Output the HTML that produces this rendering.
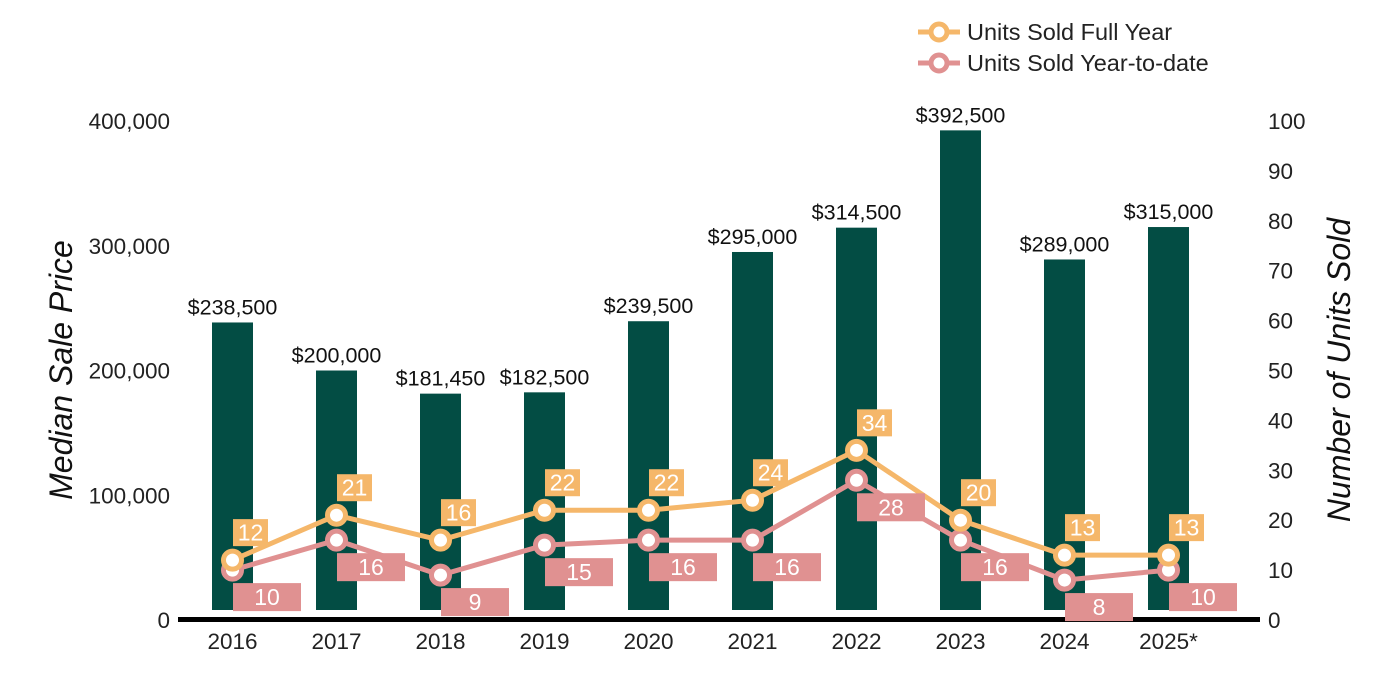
<!DOCTYPE html>
<html><head><meta charset="utf-8"><style>
body{margin:0;background:#fff;font-family:"Liberation Sans",Arial,sans-serif}
svg{display:block}
</style></head><body>
<svg id="c" width="1400" height="700">
<g id="legend">
<g>
<line x1="918" y1="32" x2="960" y2="32" stroke="#f5b76a" stroke-width="5"/>
<circle cx="939" cy="32" r="8" fill="#fff" stroke="#f5b76a" stroke-width="5"/>
<text x="967" y="40" font-size="23.5" fill="#222">Units Sold Full Year</text></g>
<g>
<line x1="918" y1="63" x2="960" y2="63" stroke="#e09191" stroke-width="5"/>
<circle cx="939" cy="63" r="8" fill="#fff" stroke="#e09191" stroke-width="5"/>
<text x="967" y="71" font-size="23.5" fill="#222">Units Sold Year-to-date</text></g>
</g>
<text transform="translate(72,370) rotate(-90)" text-anchor="middle" font-size="32" font-style="italic" fill="#111">Median Sale Price</text>
<text transform="translate(1350,370) rotate(-90)" text-anchor="middle" font-size="32" font-style="italic" fill="#111">Number of Units Sold</text>
</svg>
<script>
const years=["2016","2017","2018","2019","2020","2021","2022","2023","2024","2025*"];
const prices=[238500,200000,181450,182500,239500,295000,314500,392500,289000,315000];
const fullYear=[12,21,16,22,22,24,34,20,13,13];
const ytd=[10,16,9,15,16,16,28,16,8,10];
const leftTicks=[0,100000,200000,300000,400000];
const rightTicks=[0,10,20,30,40,50,60,70,80,90,100];
const svg=document.getElementById('c');const NS='http://www.w3.org/2000/svg';
const y0=620,yTop=121;
const yL=v=>y0-(v/400000)*(y0-yTop);
const yR=v=>y0-(v/100)*(y0-yTop);
const xC=i=>232.5+i*104;
function mk(t,a,p){const e=document.createElementNS(NS,t);for(const k in a)e.setAttribute(k,a[k]);(p||svg).appendChild(e);return e;}
leftTicks.forEach(v=>{const t=mk('text',{x:170,y:yL(v)+8,'text-anchor':'end','font-size':22.5,fill:'#222'});


t.textContent=v.toLocaleString('en-US');});
rightTicks.forEach(v=>{const t=mk('text',{x:1268,y:yR(v)+8,'font-size':22.5,fill:'#222'});


t.textContent=v;});
prices.forEach((v,i)=>{const r=mk('rect',{x:xC(i)-20.5,y:yL(v),width:41,height:610-yL(v),fill:'#034d44'});


const t=mk('text',{x:xC(i),y:yL(v)-8,'text-anchor':'middle','font-size':21.5,fill:'#111'});


t.textContent='$'+v.toLocaleString('en-US');});
const base=mk('rect',{x:178,y:617,width:1082,height:5,fill:'#000'});


years.forEach((y,i)=>{const t=mk('text',{x:xC(i),y:649,'text-anchor':'middle','font-size':22.5,fill:'#222'});


t.textContent=y;});
function series(vals,col,name){
const pl=mk('polyline',{points:vals.map((v,i)=>xC(i)+','+yR(v)).join(' '),fill:'none',stroke:col,'stroke-width':5});


vals.forEach((v,i)=>{const c=mk('circle',{cx:xC(i),cy:yR(v),r:9,fill:'#fff',stroke:col,'stroke-width':5});

});
}
function labels(vals,col,name,above){
vals.forEach((v,i)=>{const cx=xC(i)+0.5,cy=yR(v);
const w=above?35:68,h=above?27:28,top=above?cy-14-h:cy+13;
const r=mk('rect',{x:cx,y:top,width:w,height:h,fill:col});


const t=mk('text',{x:cx+w/2,y:top+h/2+8,'text-anchor':'middle','font-size':23,fill:'#fff'});


t.textContent=v;});
}
series(ytd,'#e09191','ytd');
series(fullYear,'#f5b76a','full-year');
labels(ytd,'#e09191','ytd',false);
labels(fullYear,'#f5b76a','full-year',true);
</script>
</body></html>
